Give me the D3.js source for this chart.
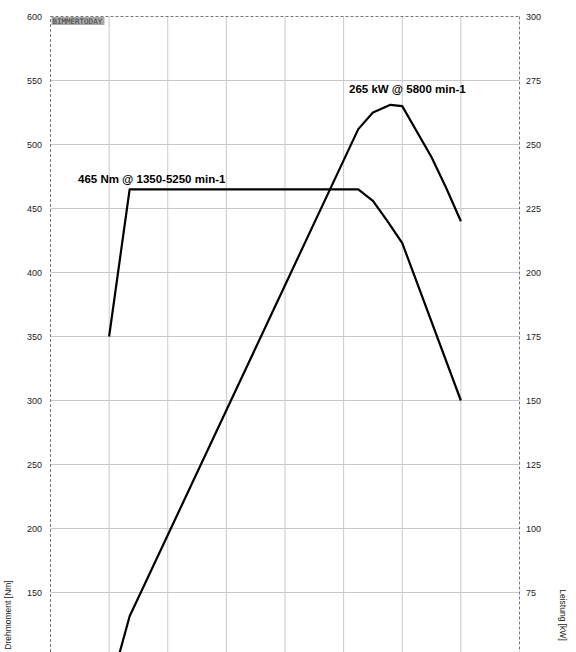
<!DOCTYPE html>
<html><head><meta charset="utf-8">
<script src="https://cdn.jsdelivr.net/npm/d3@7"></script>
<style>body{margin:0;background:#fff}svg{display:block;font-family:"Liberation Sans",Arial,sans-serif}</style>
</head><body><svg class="svg"></svg>
<script>
const rpmTicks = [0, 1000, 2000, 3000, 4000, 5000, 6000, 7000, 8000];
const torqueTicks = [150, 200, 250, 300, 350, 400, 450, 500, 550, 600];
const powerTicks = [75, 100, 125, 150, 175, 200, 225, 250, 275, 300];

const torqueRpm = [1000, 1350, 5250, 5500, 5750, 6000, 7000];
const torqueNm = [350, 465, 465, 456, 440, 423, 300];
const powerRpm = [1000, 1350, 5250, 5500, 5800, 6000, 6500, 6750, 7000];
const powerKw = [36.6, 65.7, 256, 262.5, 265.5, 265, 245, 233, 220];

const width = 576, height = 652;
const plotLeft = 50.5, plotRight = 519.5, plotTop = 16.5;
const svg = d3.select(".svg").attr("width", width).attr("height", height);

const x = d3.scaleLinear().domain([0, 8000]).range([plotLeft, plotRight]);
const yT = d3.scaleLinear().domain([600, 100]).range([plotTop, plotTop + 640]);
const yP = d3.scaleLinear().domain([300, 50]).range([plotTop, plotTop + 640]);

// grid
svg.append("g").selectAll("line").data(rpmTicks.slice(1, -1)).join("line")
  .attr("x1", d => x(d)).attr("x2", d => x(d)).attr("y1", plotTop).attr("y2", height)
  .attr("stroke", "#c8c8c8");
svg.append("g").selectAll("line").data(torqueTicks.slice(0, -1)).join("line")
  .attr("x1", plotLeft).attr("x2", plotRight).attr("y1", d => yT(d)).attr("y2", d => yT(d))
  .attr("stroke", "#c8c8c8");

// dashed frame
const frame = [[plotLeft, height, plotLeft, plotTop], [plotLeft, plotTop, plotRight, plotTop], [plotRight, plotTop, plotRight, height]];
svg.append("g").selectAll("line").data(frame).join("line")
  .attr("x1", d => d[0]).attr("y1", d => d[1]).attr("x2", d => d[2]).attr("y2", d => d[3])
  .attr("stroke", "#777").attr("stroke-dasharray", "3,2");

// tick labels
svg.append("g").selectAll("text").data(torqueTicks).join("text")
  .attr("x", 42).attr("y", d => yT(d) + 3).attr("text-anchor", "end")
  .attr("font-size", 9).attr("fill", "#222").text(d => d);
svg.append("g").selectAll("text").data(powerTicks).join("text")
  .attr("x", 526).attr("y", d => yP(d) + 3)
  .attr("font-size", 9).attr("fill", "#222").text(d => d);

svg.append("text").attr("transform", "translate(11,615) rotate(-90)")
  .attr("text-anchor", "middle").attr("font-size", 8.5).attr("fill", "#222").text("Drehmoment [Nm]");
svg.append("text").attr("transform", "translate(560,615) rotate(90)")
  .attr("text-anchor", "middle").attr("font-size", 8.5).attr("fill", "#222").text("Leistung [kW]");

// watermark
svg.append("rect").attr("x", plotLeft + 1).attr("y", plotTop + 0.5).attr("width", 53).attr("height", 8).attr("fill", "#aaa");
svg.append("text").attr("x", plotLeft + 2).attr("y", plotTop + 7.5).attr("font-size", 7.5)
  .attr("font-family", "DejaVu Sans Mono").attr("fill", "#444").text("BIMMERTODAY");

// curves
svg.append("defs").append("clipPath").attr("id", "c").append("rect")
  .attr("x", 0).attr("y", 0).attr("width", width).attr("height", height);
const g = svg.append("g").attr("clip-path", "url(#c)");
g.append("path").datum(torqueRpm.map((r, i) => [r, torqueNm[i]]))
  .attr("d", d3.line().x(d => x(d[0])).y(d => yT(d[1])))
  .attr("fill", "none").attr("stroke", "#000").attr("stroke-width", 2.2).attr("stroke-linejoin", "round");
g.append("path").datum(powerRpm.map((r, i) => [r, powerKw[i]]))
  .attr("d", d3.line().x(d => x(d[0])).y(d => yP(d[1])))
  .attr("fill", "none").attr("stroke", "#000").attr("stroke-width", 2.2).attr("stroke-linejoin", "round");

svg.append("text").attr("x", 78).attr("y", 183).attr("font-size", 11.5).attr("font-weight", "bold")
  .text("465 Nm @ 1350-5250 min-1");
svg.append("text").attr("x", 349).attr("y", 93).attr("font-size", 11.5).attr("font-weight", "bold")
  .text("265 kW @ 5800 min-1");
</script></body></html>
